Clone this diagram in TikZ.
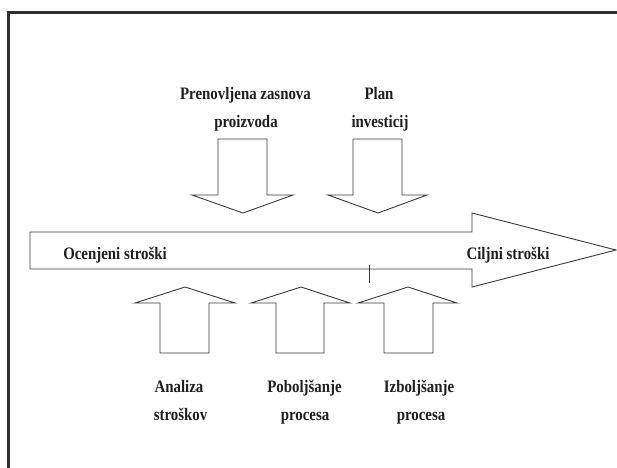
\documentclass[tikz,border=0pt]{standalone}
\usepackage{fontspec}
\usepackage{graphicx}
\setmainfont{Liberation Serif}
\newcommand{\nar}[1]{\scalebox{0.85}[1]{#1}}
\definecolor{ln}{HTML}{3A3A3A}
\definecolor{txt}{HTML}{1E1E1E}
\definecolor{frm}{HTML}{303030}
\tikzset{
  lbl/.style={font=\bfseries\fontsize{17.5}{20}\selectfont, text=txt, inner sep=0pt, anchor=base},
  shp/.style={draw=ln, line width=0.9pt, fill=white, line join=miter},
  frame/.style={draw=frm, line width=2.4pt}
}
\begin{document}
\begin{tikzpicture}[x=1pt,y=-1pt]
\useasboundingbox (0,0) rectangle (617,467);
% frame
\draw[frame] (8.3,470) -- (8.3,12.3) -- (620,12.3);
% main arrow
\draw[shp] (30,232) -- (472,232) -- (472,213) -- (616,250) -- (472,287) -- (472,269) -- (30,269) -- cycle;
% tick
\coordinate (t1) at (369,265);
\coordinate (t2) at (369,283);
\draw[ln, line width=0.9pt] (t1) -- (t2);
% down arrows
\draw[shp] (218,139) -- (267,139) -- (267,195) -- (293,195) -- (243,213) -- (192,195) -- (218,195) -- cycle;
\draw[shp] (353,139) -- (402,139) -- (402,195) -- (427,195) -- (378,213) -- (328,195) -- (353,195) -- cycle;
% up arrows
\draw[shp] (160,353) -- (209,353) -- (209,303) -- (235,303) -- (185,287) -- (135,303) -- (160,303) -- cycle;
\draw[shp] (276,353) -- (324,353) -- (324,303) -- (350,303) -- (301,287) -- (251,303) -- (276,303) -- cycle;
\draw[shp] (384,353) -- (433,353) -- (433,303) -- (457,303) -- (408,287) -- (358,303) -- (384,303) -- cycle;
% labels
\node[lbl] (p1) at (245.5,99) {\nar{Prenovljena zasnova}};
\node[lbl] (p2) at (246,127) {\nar{proizvoda}};
\node[lbl] (i1) at (379,99) {\nar{Plan}};
\node[lbl] (i2) at (380,127) {\nar{investicij}};
\node[lbl] (oc) at (115,259) {\nar{Ocenjeni stroški}};
\node[lbl] (ci) at (508,259) {\nar{Ciljni stroški}};
\node[lbl] (a1) at (179,392) {\nar{Analiza}};
\node[lbl] (a2) at (180.5,420) {\nar{stroškov}};
\node[lbl] (b1) at (304.5,392) {\nar{Poboljšanje}};
\node[lbl] (b2) at (305,420) {\nar{procesa}};
\node[lbl] (c1) at (419,392) {\nar{Izboljšanje}};
\node[lbl] (c2) at (421,420) {\nar{procesa}};
\end{tikzpicture}
\end{document}
